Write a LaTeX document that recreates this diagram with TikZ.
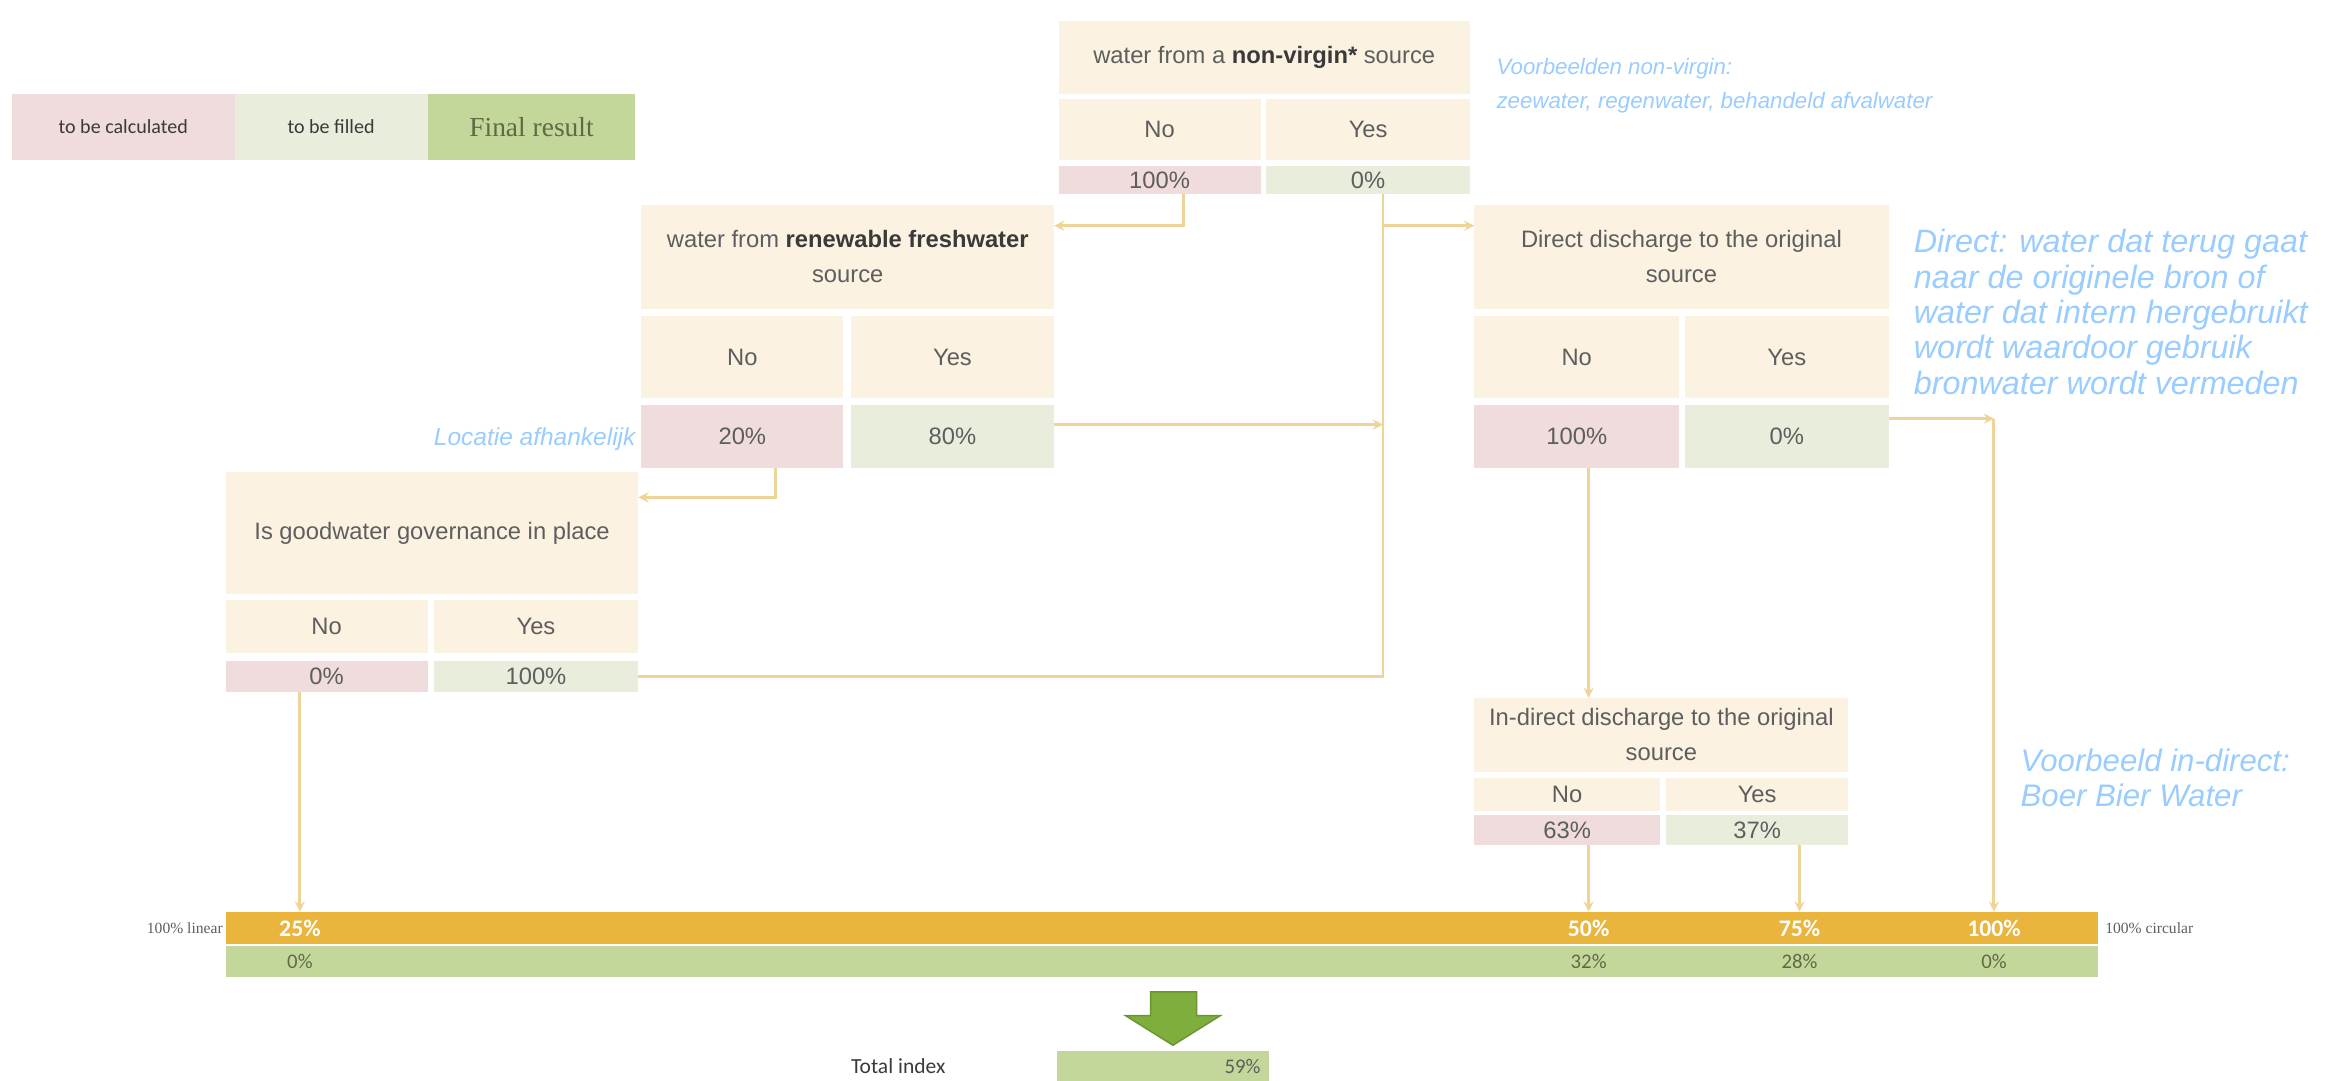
\documentclass[tikz,border=0pt]{standalone}
\usepackage{fontspec}
\setmainfont{Liberation Sans}
\newfontfamily\calibfont{Carlito}
\newfontfamily\seriffont{Liberation Serif}
\usetikzlibrary{arrows, positioning}
\definecolor{cream}{HTML}{FBF2E2}
\definecolor{calcpink}{HTML}{F0DCDC}
\definecolor{fillgreen}{HTML}{E9EEDC}
\definecolor{resultgreen}{HTML}{C4D79B}
\definecolor{barorange}{HTML}{E9B53D}
\definecolor{linktan}{HTML}{EFD49A}
\definecolor{notebl}{HTML}{99CCFF}
\definecolor{txtgray}{HTML}{5E5E5E}
\definecolor{txtdark}{HTML}{3A3A3A}
\definecolor{olivetxt}{HTML}{5E6B45}
\definecolor{arrowgreen}{HTML}{80AE3C}
\definecolor{arrowedge}{HTML}{6A9530}
\newcommand{\keyword}[1]{\textbf{\color{txtdark}#1}}

\begin{document}
\begin{tikzpicture}[
        x=1pt,
        y=-1pt,
        >=stealth,
        every node/.style={inner sep=0pt, outer sep=0pt, text=txtgray},
        cell/.style={anchor=north west, fill=cream, align=center,
            font=\fontsize{16}{23.5}\selectfont},
        calc/.style={cell, fill=calcpink},
        given/.style={cell, fill=fillgreen},
        keybox/.style={anchor=north west, minimum height=45pt,
            font=\calibfont\fontsize{13.5}{15}\selectfont, text=txtdark},
        barval/.style={font=\calibfont\bfseries\fontsize{16}{18}\selectfont, text=white},
        scoreval/.style={font=\calibfont\fontsize{14}{16}\selectfont, text=olivetxt},
        note/.style={anchor=west, align=left, text=notebl},
        link/.style={draw=linktan, line width=2pt}
    ]
    \useasboundingbox (0,0) rectangle (1568,728);

    % legend
    \node[keybox, fill=calcpink, minimum width=150pt] (keycalc) at (8,63) {to be calculated};
    \node[keybox, fill=fillgreen, minimum width=130pt] (keyfill) at (158,63) {to be filled};
    \node[keybox, fill=resultgreen, minimum width=140pt, text=olivetxt,
        font=\seriffont\fontsize{18.5}{20}\selectfont] (keyfinal) at (288,63) {Final result};

    % non-virgin source
    \node[cell, minimum width=277pt, minimum height=49pt] (t1h) at (713,14) {water from a \keyword{non-virgin*} source};
    \node[cell, minimum width=136pt, minimum height=41pt] (t1no) at (713,67) {No};
    \node[cell, minimum width=137pt, minimum height=41pt] (t1yes) at (853,67) {Yes};
    \node[calc, minimum width=136pt, minimum height=19pt] (p1no) at (713,112) {100\%};
    \node[given, minimum width=137pt, minimum height=19pt] (p1yes) at (853,112) {0\%};

    % renewable freshwater
    \node[cell, minimum width=278pt, minimum height=70pt] (t2h) at (432,138) {water from \keyword{renewable freshwater}\\source};
    \node[cell, minimum width=136pt, minimum height=55pt] (t2no) at (432,213) {No};
    \node[cell, minimum width=137pt, minimum height=55pt] (t2yes) at (573,213) {Yes};
    \node[calc, minimum width=136pt, minimum height=42pt] (p2no) at (432,273) {20\%};
    \node[given, minimum width=137pt, minimum height=42pt] (p2yes) at (573,273) {80\%};

    % governance
    \node[cell, minimum width=278pt, minimum height=82pt] (t3h) at (152,318) {Is goodwater governance in place};
    \node[cell, minimum width=136pt, minimum height=36pt] (t3no) at (152,404) {No};
    \node[cell, minimum width=138pt, minimum height=36pt] (t3yes) at (292,404) {Yes};
    \node[calc, minimum width=136pt, minimum height=21pt] (p3no) at (152,445) {0\%};
    \node[given, minimum width=138pt, minimum height=21pt] (p3yes) at (292,445) {100\%};

    % direct discharge
    \node[cell, minimum width=279pt, minimum height=70pt] (t4h) at (993,138) {Direct discharge to the original\\source};
    \node[cell, minimum width=138pt, minimum height=55pt] (t4no) at (993,213) {No};
    \node[cell, minimum width=137pt, minimum height=55pt] (t4yes) at (1135,213) {Yes};
    \node[calc, minimum width=138pt, minimum height=42pt] (p4no) at (993,273) {100\%};
    \node[given, minimum width=137pt, minimum height=42pt] (p4yes) at (1135,273) {0\%};

    % in-direct discharge
    \node[cell, minimum width=252pt, minimum height=50pt] (t5h) at (993,470) {In-direct discharge to the original\\source};
    \node[cell, minimum width=125pt, minimum height=22pt] (t5no) at (993,524) {No};
    \node[cell, minimum width=123pt, minimum height=22pt] (t5yes) at (1122,524) {Yes};
    \node[calc, minimum width=125pt, minimum height=20pt] (p5no) at (993,549) {63\%};
    \node[given, minimum width=123pt, minimum height=20pt] (p5yes) at (1122,549) {37\%};

    % notes
    \node[note, font=\itshape\fontsize{15}{23}\selectfont] (notevirgin) at (1008,57.5) {Voorbeelden non-virgin:\\zeewater, regenwater, behandeld afvalwater};
    \node[note, anchor=east, font=\itshape\fontsize{16.5}{20}\selectfont] (notelocal) at (428,296) {Locatie afhankelijk};
    \node[note, font=\itshape\fontsize{21.8}{23.8}\selectfont] (notedirect) at (1289,210) {Direct: water dat terug gaat\\naar de originele bron of\\water dat intern hergebruikt\\wordt waardoor gebruik\\bronwater wordt vermeden};
    \node[note, font=\itshape\fontsize{21}{24}\selectfont] (noteindirect) at (1361,524) {Voorbeeld in-direct:\\Boer Bier Water};

    % scale bar
    \node[anchor=north west, fill=barorange, minimum width=1261pt, minimum height=22pt] (bar) at (152,614) {};
    \node[anchor=north west, fill=resultgreen, minimum width=1261pt, minimum height=21pt] (score) at (152,637) {};
    \node[left=2pt of bar, font=\seriffont\fontsize{10.5}{12}\selectfont] (linear) {100\% linear};
    \node[right=5pt of bar, font=\seriffont\fontsize{10.5}{12}\selectfont] (circular) {100\% circular};
    \node[barval] (v25) at (202,625) {25\%};
    \node[barval] (v50) at (1070,625) {50\%};
    \node[barval] (v75) at (1212,625) {75\%};
    \node[barval] (v100) at (1343,625) {100\%};
    \node[scoreval] (s25) at (202,647.5) {0\%};
    \node[scoreval] (s50) at (1070,647.5) {32\%};
    \node[scoreval] (s75) at (1212,647.5) {28\%};
    \node[scoreval] (s100) at (1343,647.5) {0\%};

    % total
    \fill[arrowgreen, draw=arrowedge, line width=1pt] (775,668) -- (806,668) -- (806,684) -- (822,684)
        -- (790,704) -- (758,684) -- (775,684) -- cycle;
    \node[anchor=north west, fill=resultgreen, minimum width=143pt, minimum height=20pt] (total) at (712,708) {};
    \node[anchor=east, font=\calibfont\fontsize{14}{16}\selectfont] (totalval) at ([xshift=-6pt]total.east) {59\%};
    \node[font=\calibfont\fontsize{14.5}{16}\selectfont, text=txtdark] (totallbl) at (605,718) {Total index};

    % connectors
    \coordinate (trunk) at (931.5,152);
    \draw[link, ->] ([xshift=16pt]p1no.south) |- ([yshift=21pt]t2h.east);
    \draw[link] ([xshift=10pt]p1yes.south) -- (trunk);
    \draw[link, ->] (trunk) -- (trunk -| t4h.west);
    \draw[link] (p3yes.east) -| (trunk);
    \draw[link, ->] ([yshift=8pt]p2yes.east) -- ([yshift=8pt]p2yes.east -| trunk);
    \draw[link, ->] ([xshift=22pt]p2no.south) |- ([yshift=24pt]t3h.east);
    \draw[link, ->] (p3no.south -| v25) -- (v25 |- bar.north);
    \draw[link, ->] (p4no.south -| v50) -- (t5h.north -| v50);
    \draw[link, ->] (p5no.south -| v50) -- (v50 |- bar.north);
    \draw[link, ->] (p5yes.south -| v75) -- (v75 |- bar.north);
    \draw[link, ->] ([yshift=12pt]p4yes.east) -- ([yshift=12pt]p4yes.east -| v100);
    \draw[link, ->] ([yshift=12pt]p4yes.east -| v100) -- (v100 |- bar.north);
\end{tikzpicture}
\end{document}
